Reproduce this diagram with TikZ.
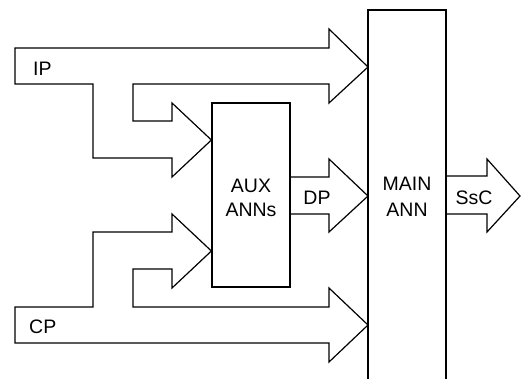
\documentclass[tikz,border=0pt]{standalone}
\usepackage{fontspec}
\setmainfont{Liberation Sans}
\begin{document}
\begin{tikzpicture}[x=1pt,y=-1pt,
  outline/.style={draw=black,line width=1.2pt,line join=miter},
  lbl/.style={font=\fontsize{19.5}{24}\selectfont,inner sep=0pt,anchor=base},
  blockbox/.style={draw=black,line width=1.2pt,minimum width=78pt,inner sep=0pt}]
\useasboundingbox (0,0) rectangle (522,378);
% boxes
\node[blockbox,minimum height=184pt] (aux) at (251,195) {};
\coordinate (mainTL) at (368,10);
\coordinate (mainTR) at (446,10);
\coordinate (mainBL) at (368,382);
\coordinate (mainBR) at (446,382);
\draw[outline] (mainBL) -- (mainTL) -- (mainTR) -- (mainBR);
% IP block arrow
\draw[outline] (15,48) -- (329,48) -- (329,29) -- (368,67) -- (329,103) -- (329,84)
  -- (133,84) -- (133,121) -- (172,121) -- (172,103) -- (aux.west |- 0,140)
  -- (172,177) -- (172,158) -- (93,158) -- (93,84) -- (15,84) -- cycle;
% CP block arrow
\draw[outline] (15,343) -- (329,343) -- (329,362) -- (368,325) -- (329,288) -- (329,307)
  -- (133,307) -- (133,269) -- (172,269) -- (172,288) -- (aux.west |- 0,251)
  -- (172,214) -- (172,232) -- (93,232) -- (93,307) -- (15,307) -- cycle;
% DP arrow
\draw[outline] (aux.east |- 0,177) -- (329,177) -- (329,159) -- (mainTL |- 0,196)
  -- (329,232) -- (329,214) -- (aux.east |- 0,214);
% SsC arrow
\draw[outline] (mainTR |- 0,176) -- (487,176) -- (487,159) -- (520,196)
  -- (487,232) -- (487,214) -- (mainTR |- 0,214);
% labels
\node[lbl,anchor=base west] (ip) at (33,75) {IP};
\node[lbl,anchor=base west] (cp) at (29,333) {CP};
\node[lbl] (dp) at (317,204) {DP};
\node[lbl] (ssc) at (474,204) {SsC};
\node[lbl] (auxa) at (251,192) {AUX};
\node[lbl] (auxb) at (251,216) {ANNs};
\node[lbl] (maina) at (407,190) {MAIN};
\node[lbl] (mainb) at (407,216) {ANN};
\end{tikzpicture}
\end{document}
